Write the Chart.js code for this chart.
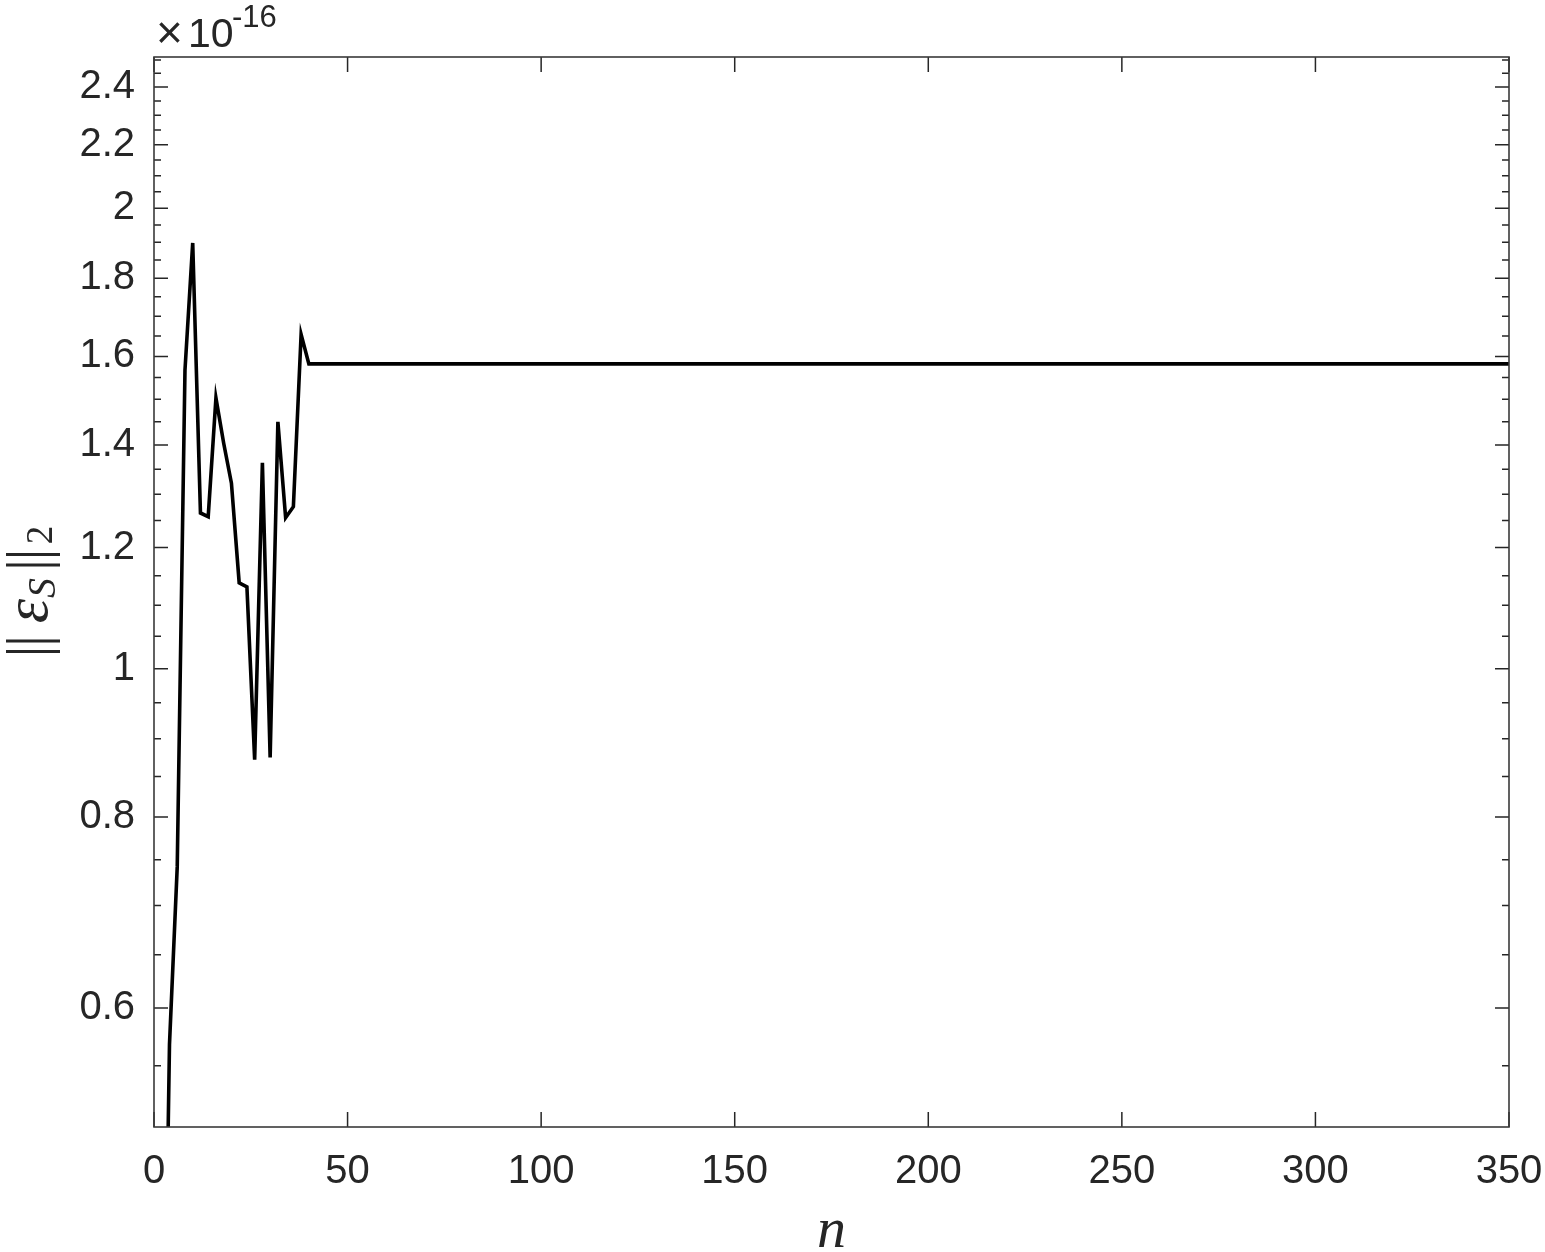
<!DOCTYPE html>
<html>
<head>
<meta charset="utf-8">
<script src="https://cdn.jsdelivr.net/npm/chart.js@4/dist/chart.umd.min.js"></script>
<style>
  html, body { margin: 0; padding: 0; background: #ffffff; }
  #wrap { width: 1545px; height: 1252px; }
</style>
</head>
<body>
<div id="wrap"><canvas id="c" width="1545" height="1252"></canvas></div>
<script>
// ---- data (y values in units of 1e-16) ----
const nValues   = [2, 4, 6, 8, 10, 12, 14, 16, 18, 20, 22, 24, 26, 28, 30, 32, 34, 36, 38, 40, 350];
const errValues = [0.27, 0.568, 0.742, 1.567, 1.898, 1.264, 1.257, 1.503, 1.404, 1.322, 1.138, 1.131,
                   0.872, 1.363, 0.875, 1.45, 1.255, 1.276, 1.654, 1.582, 1.582];
const yExponent = -16;

const xTickValues = [0, 50, 100, 150, 200, 250, 300, 350];
const xTickLabels = ['0', '50', '100', '150', '200', '250', '300', '350'];
const yTickValues = [0.6, 0.8, 1, 1.2, 1.4, 1.6, 1.8, 2, 2.2, 2.4];
const yTickLabels = ['0.6', '0.8', '1', '1.2', '1.4', '1.6', '1.8', '2', '2.2', '2.4'];
const yMinorTickValues = [0.55, 0.65, 0.7, 0.75, 0.85, 0.9, 0.95, 1.05, 1.1, 1.15, 1.25, 1.3, 1.35,
                          1.45, 1.5, 1.55, 1.65, 1.7, 1.75, 1.85, 1.9, 1.95, 2.05, 2.1, 2.15,
                          2.25, 2.3, 2.35, 2.45, 2.5];
const xRange = [0, 350];
const yRange = [0.5016, 2.511];

const points = nValues.map((n, i) => ({ x: n, y: errValues[i] }));

const TXT = '#262626';
const SANS = '"Liberation Sans", Arial, Helvetica, sans-serif';
const SERIF = '"Liberation Serif", "DejaVu Serif", "Times New Roman", serif';
const BARFONT = '"Liberation Serif", "DejaVu Serif", serif';

const framePlugin = {
  id: 'frame',
  afterDatasetsDraw(chart) {
    const ctx = chart.ctx;
    const a = chart.chartArea;
    const xs = chart.scales.x, ys = chart.scales.y;
    ctx.save();
    // ticks (inward, MATLAB style)
    ctx.strokeStyle = TXT;
    ctx.lineWidth = 1.5;
    ctx.beginPath();
    yTickValues.forEach(v => {
      const p = ys.getPixelForValue(v);
      ctx.moveTo(a.left, p); ctx.lineTo(a.left + 14, p);
      ctx.moveTo(a.right, p); ctx.lineTo(a.right - 14, p);
    });
    yMinorTickValues.forEach(v => {
      const p = ys.getPixelForValue(v);
      ctx.moveTo(a.left, p); ctx.lineTo(a.left + 7, p);
      ctx.moveTo(a.right, p); ctx.lineTo(a.right - 7, p);
    });
    xTickValues.forEach(v => {
      const p = xs.getPixelForValue(v);
      ctx.moveTo(p, a.bottom); ctx.lineTo(p, a.bottom - 15);
      ctx.moveTo(p, a.top); ctx.lineTo(p, a.top + 15);
    });
    ctx.stroke();
    // box
    ctx.strokeStyle = '#3a3a3a';
    ctx.lineWidth = 1.6;
    ctx.strokeRect(a.left, a.top, a.right - a.left, a.bottom - a.top);

    // exponent label
    ctx.fillStyle = TXT;
    ctx.textBaseline = 'alphabetic';
    ctx.textAlign = 'left';
    ctx.font = '46px ' + SANS;
    ctx.fillText('\u00D7', a.left + 2, 48);
    ctx.font = '41px ' + SANS;
    ctx.fillText('10', a.left + 34, 47);
    ctx.font = '31px ' + SANS;
    ctx.fillText('-' + String(Math.abs(yExponent)), a.left + 78, 27);

    // x axis title
    ctx.textAlign = 'center';
    ctx.font = 'italic 58px ' + SERIF;
    ctx.fillText('n', (a.left + a.right) / 2, 1247);

    // y axis title  ||eps_S||_2 rotated
    const cy = (a.top + a.bottom) / 2;
    ctx.translate(47, cy + 61);
    ctx.rotate(-Math.PI / 2);
    ctx.textAlign = 'center';
    ctx.font = '60px ' + BARFONT;
    ctx.fillText('|', 1.5, 0);
    ctx.fillText('|', 12, 0);
    ctx.fillText('|', 88, 0);
    ctx.fillText('|', 98.5, 0);
    ctx.font = 'italic 62px ' + SERIF;
    ctx.fillText('\u03B5', 42, 0);
    ctx.font = 'italic 40px ' + SERIF;
    ctx.fillText('S', 65, 8);
    ctx.font = '37px ' + SERIF;
    ctx.fillText('2', 118, 5);
    ctx.restore();
  }
};

new Chart(document.getElementById('c'), {
  type: 'line',
  data: {
    datasets: [{
      data: points,
      borderColor: '#000000',
      borderWidth: 3.6,
      pointRadius: 0,
      tension: 0,
      fill: false,
      borderJoinStyle: 'miter'
    }]
  },
  options: {
    responsive: false,
    animation: false,
    layout: { padding: { left: 0, right: 36, top: 57, bottom: 0 } },
    plugins: { legend: { display: false }, tooltip: { enabled: false }, title: { display: false } },
    scales: {
      x: {
        type: 'linear',
        min: xRange[0], max: xRange[1],
        grid: { display: false, drawTicks: false },
        border: { display: false },
        afterBuildTicks: (s) => { s.ticks = xTickValues.map(v => ({ value: v })); },
        afterFit: (s) => { s.height = 125; s.paddingLeft = 0; s.paddingRight = 0; },
        ticks: {
          autoSkip: false, maxRotation: 0, padding: 21,
          color: TXT, font: { family: SANS, size: 40 },
          callback: (v, i) => xTickLabels[i]
        }
      },
      y: {
        type: 'logarithmic',
        min: yRange[0], max: yRange[1],
        grid: { display: false, drawTicks: false },
        border: { display: false },
        afterBuildTicks: (s) => { s.ticks = yTickValues.map(v => ({ value: v })); },
        afterFit: (s) => { s.width = 154; s.paddingTop = 0; s.paddingBottom = 0; },
        ticks: {
          autoSkip: false, padding: 19,
          color: TXT, font: { family: SANS, size: 40 },
          callback: (v, i) => yTickLabels[i]
        }
      }
    }
  },
  plugins: [framePlugin]
});
</script>
</body>
</html>
